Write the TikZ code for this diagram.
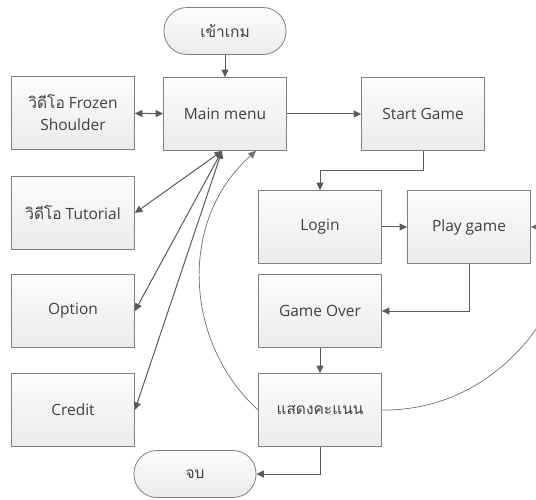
\documentclass[tikz,border=0pt]{standalone}
\usepackage{fontspec}
\setmainfont{Open Sans}
\newfontfamily\thai[Script=Thai]{Loma}
\usetikzlibrary{arrows.meta,calc}
\definecolor{boxline}{HTML}{808080}
\definecolor{connline}{HTML}{5A5A5A}
\definecolor{curveline}{HTML}{6E6E6E}
\definecolor{txt}{HTML}{404040}

\begin{document}
\begin{tikzpicture}[x=1pt,y=-1pt,
  font=\fontsize{15.5}{22}\selectfont, text=txt,
  stepbox/.style={draw=boxline, line width=0.8pt, top color=gray!2, bottom color=gray!16,
    minimum width=123pt, minimum height=73pt, inner sep=2pt, align=center},
  termbox/.style={stepbox, rounded corners=23pt, minimum width=122pt, minimum height=47pt},
  conn/.style={draw=connline, line width=1pt, -{Triangle[length=7.5pt,width=7pt]}},
  dconn/.style={draw=connline, line width=1pt, {Triangle[length=7.5pt,width=7pt]}-{Triangle[length=7.5pt,width=7pt]}},
  curvy/.style={draw=curveline, line width=0.7pt, -{Triangle[length=7.5pt,width=7pt]}}]

\useasboundingbox (0,0) rectangle (536,500);

% terminals
\node[termbox] (begin) at (225,31) {\thai เข้าเกม};
\node[termbox] (finish) at (195,474) {\thai จบ};

% main menu and side screens
\node[stepbox] (main) at (225,114) {Main menu};
\node[stepbox] (frozen) at (73,113) {{\thai วิดีโอ} Frozen\\Shoulder};
\node[stepbox] (tut) at (73,213) {{\thai วิดีโอ} Tutorial};
\node[stepbox] (opt) at (73,311) {Option};
\node[stepbox] (cred) at (73,410) {Credit};

% game flow
\node[stepbox] (startg) at (423,114) {Start Game};
\node[stepbox] (login) at (320,227) {Login};
\node[stepbox] (play) at (469,227) {Play game};
\node[stepbox] (over) at (320,311) {Game Over};
\node[stepbox] (score) at (320,410) {\thai แสดงคะแนน};

\coordinate (mb) at ($(main.south)+(-3,0)$);
\coordinate (mr) at ($(main.south)+(31,0)$);

% connectors
\draw[conn] (begin) -- (main);
\draw[dconn] (frozen) -- (main);
\draw[conn] (main) -- (startg);
\draw[conn] (startg.south) -- ++(0,20) -| (login.north);
\draw[conn] (login) -- (play);
\draw[conn] (play.south) |- (over.east);
\draw[conn] (over) -- (score);
\draw[conn] (score.south) |- (finish.east);

\draw[dconn] (mb) -- (tut.east);
\draw[dconn] (mb) -- (opt.east);
\draw[dconn] (mb) -- (cred.east);

% return loops
\draw[curvy] (score.west) .. controls (186,345) and (176,222) .. (mr);
\draw[curvy] (score.east) .. controls (535,412) and (605,227) .. (play.east);
\end{tikzpicture}
\end{document}
